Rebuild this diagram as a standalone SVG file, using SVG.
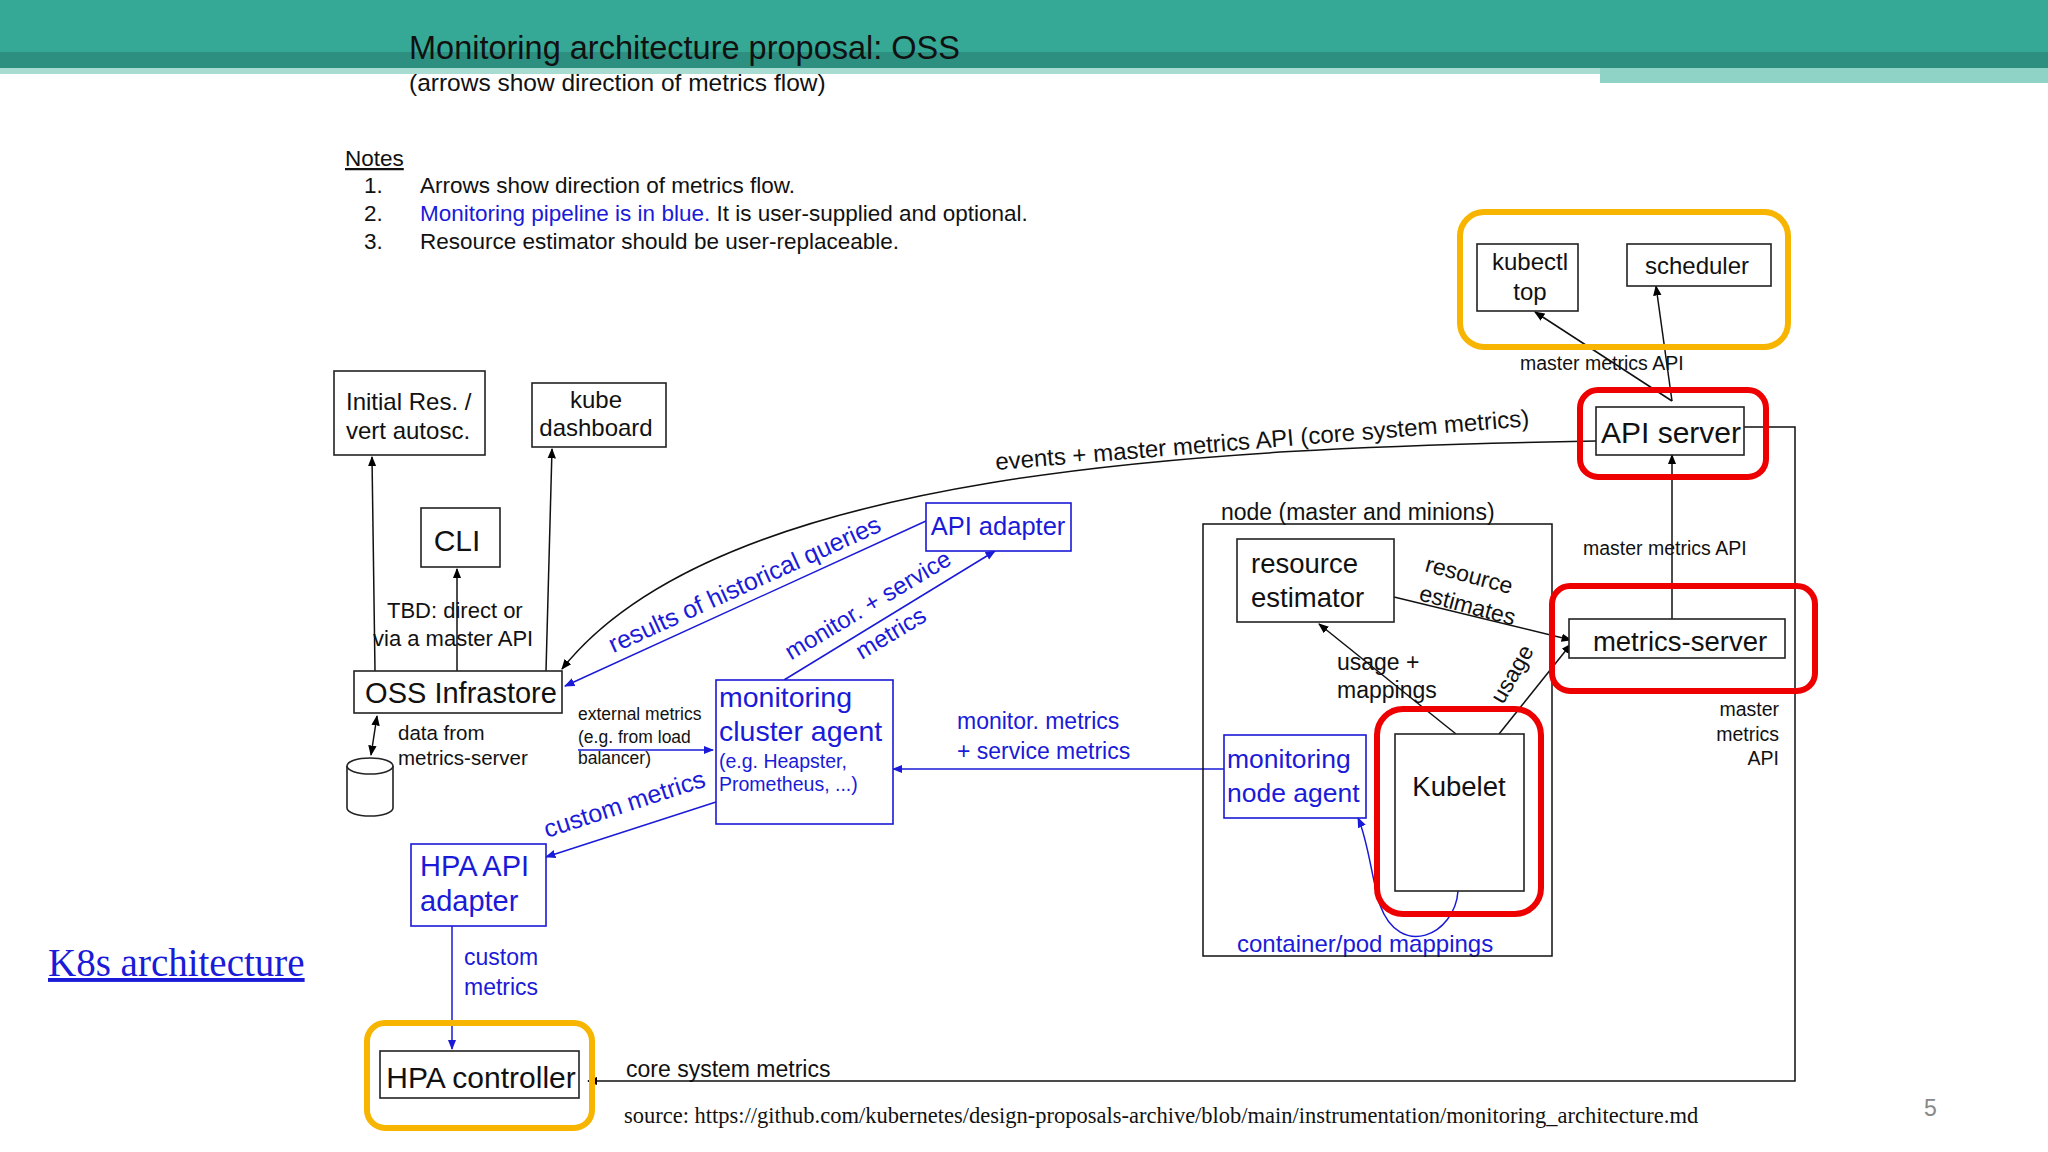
<svg xmlns="http://www.w3.org/2000/svg" width="2048" height="1152" viewBox="0 0 2048 1152">
<defs>
<marker id="ab" viewBox="0 0 10 10" refX="9" refY="5" markerWidth="7" markerHeight="7" orient="auto-start-reverse"><path d="M0,1 L10,5 L0,9 z" fill="#000"/></marker>
<marker id="au" viewBox="0 0 10 10" refX="9" refY="5" markerWidth="7" markerHeight="7" orient="auto-start-reverse"><path d="M0,1 L10,5 L0,9 z" fill="#1a1ad8"/></marker>
</defs>
<style>
text{font-family:"Liberation Sans",Arial,sans-serif;fill:#111}
.b{fill:#1a1ad8}
.bx{fill:#fff;stroke:#222;stroke-width:1.6}
.bb{fill:#fff;stroke:#1a1ad8;stroke-width:1.6}
.red{fill:none;stroke:#ee0000;stroke-width:6}
.org{fill:none;stroke:#f7b500;stroke-width:6}
.ln{fill:none;stroke:#111;stroke-width:1.5}
.lb{fill:none;stroke:#1a1ad8;stroke-width:1.5}
</style>
<rect width="2048" height="1152" fill="#fff"/>
<rect x="0" y="0" width="2048" height="52" fill="#36a996"/>
<rect x="0" y="52" width="2048" height="16" fill="#2c8f80"/>
<rect x="0" y="68" width="1600" height="6" fill="#a8dcd2"/>
<rect x="1600" y="68" width="448" height="15" fill="#8ed3c6"/>
<text x="409" y="59" font-size="32.5">Monitoring architecture proposal: OSS</text>
<text x="409" y="91" font-size="24.5">(arrows show direction of metrics flow)</text>
<text x="345" y="166" font-size="22.5" text-decoration="underline">Notes</text>
<g font-size="22.5">
<text x="364" y="193">1.</text><text x="420" y="193">Arrows show direction of metrics flow.</text>
<text x="364" y="221">2.</text><text x="420" y="221"><tspan class="b">Monitoring pipeline is in blue.</tspan> It is user-supplied and optional.</text>
<text x="364" y="249">3.</text><text x="420" y="249">Resource estimator should be user-replaceable.</text>
</g>
<g id="connectors">
<path class="ln" d="M1744,427 H1795 V1081 H588" marker-end="url(#ab)"/>
<path class="ln" d="M1672,401 L1535,312" marker-end="url(#ab)"/>
<path class="ln" d="M1672,401 L1656,286" marker-end="url(#ab)"/>
<path class="ln" d="M1596,441 C1200,448 720,470 562,669" marker-end="url(#ab)"/>
<path class="ln" d="M1394,597 L1571,640" marker-end="url(#ab)"/>
<path class="ln" d="M1672,619 L1672,455" marker-end="url(#ab)"/>
<path class="ln" d="M1456,734 L1319,624" marker-end="url(#ab)"/>
<path class="ln" d="M1499,734 L1571,644" marker-end="url(#ab)"/>
<path class="lb" d="M1458,891 C1455,935 1400,960 1380,905 C1372,880 1368,840 1358,818" marker-end="url(#au)"/>
<path class="lb" d="M1224,769 L893,769" marker-end="url(#au)"/>
<path class="lb" d="M926,521 L565,686" marker-end="url(#au)"/>
<path class="lb" d="M784,680 L995,551" marker-end="url(#au)"/>
<path class="ln" d="M375,671 L372,457" marker-end="url(#ab)"/>
<path class="ln" d="M457,671 L457,569" marker-end="url(#ab)"/>
<path class="ln" d="M546,671 L552,449" marker-end="url(#ab)"/>
<path class="ln" d="M377,716 L371,755" marker-start="url(#ab)" marker-end="url(#ab)"/>
<path class="lb" d="M578,750 L713,750" marker-end="url(#au)"/>
<path class="lb" d="M716,802 L546,857" marker-end="url(#au)"/>
<path class="lb" d="M452,926 L452,1049" marker-end="url(#au)"/>
</g>
<text x="996" y="470" font-size="24" transform="rotate(-4.7 996 470)">events + master metrics API (core system metrics)</text>
<text x="1520" y="370" font-size="19.5">master metrics API</text>
<text x="1583" y="555" font-size="19.5">master metrics API</text>
<g font-size="19.5" text-anchor="end"><text x="1779" y="716">master</text><text x="1779" y="741">metrics</text><text x="1779" y="765">API</text></g>
<text x="1424" y="571" font-size="23" transform="rotate(15 1424 571)">resource</text>
<text x="1418" y="600" font-size="23" transform="rotate(15 1418 600)">estimates</text>
<text x="1337" y="670" font-size="23">usage +</text>
<text x="1337" y="698" font-size="23">mappings</text>
<text x="1503" y="705" font-size="23" transform="rotate(-60 1503 705)">usage</text>
<text x="1237" y="952" font-size="24" class="b">container/pod mappings</text>
<text x="957" y="729" font-size="23" class="b">monitor. metrics</text>
<text x="957" y="759" font-size="23" class="b">+ service metrics</text>
<text x="748" y="592" font-size="25" class="b" text-anchor="middle" transform="rotate(-24.5 748 592)">results of historical queries</text>
<text x="872" y="612" font-size="24" class="b" text-anchor="middle" transform="rotate(-31 872 612)">monitor. + service</text>
<text x="895" y="640" font-size="24" class="b" text-anchor="middle" transform="rotate(-31 895 640)">metrics</text>
<text x="387" y="618" font-size="22">TBD: direct or</text>
<text x="373" y="646" font-size="22">via a master API</text>
<text x="398" y="740" font-size="20.5">data from</text>
<text x="398" y="765" font-size="20.5">metrics-server</text>
<g font-size="17.5" class="b"><text x="578" y="720">external metrics</text><text x="578" y="743">(e.g. from load</text><text x="578" y="764">balancer)</text></g>
<text x="627" y="812" font-size="25" class="b" text-anchor="middle" transform="rotate(-18 627 812)">custom metrics</text>
<text x="464" y="965" font-size="23" class="b">custom</text>
<text x="464" y="995" font-size="23" class="b">metrics</text>
<text x="626" y="1077" font-size="23">core system metrics</text>
<g id="clients"><rect class="org" x="1460" y="212" width="328" height="135" rx="24"/></g>
<g id="kubectl"><rect class="bx" x="1477" y="244" width="101" height="67"/><text x="1530" y="270" font-size="24" text-anchor="middle">kubectl</text><text x="1530" y="300" font-size="24" text-anchor="middle">top</text></g>
<g id="scheduler"><rect class="bx" x="1627" y="244" width="144" height="42"/><text x="1697" y="274" font-size="24" text-anchor="middle">scheduler</text></g>
<g id="apiserver"><rect class="red" x="1580" y="390" width="186" height="87" rx="18"/><rect class="bx" x="1596" y="407" width="148" height="48"/><text x="1671" y="443" font-size="30" text-anchor="middle">API server</text></g>
<g id="node"><rect class="ln" x="1203" y="524" width="349" height="432"/><text x="1221" y="520" font-size="23">node (master and minions)</text></g>
<g id="estimator"><rect class="bx" x="1237" y="539" width="157" height="83"/><text x="1251" y="573" font-size="27.5">resource</text><text x="1251" y="607" font-size="27.5">estimator</text></g>
<g id="metricsserver"><rect class="red" x="1552" y="586" width="263" height="105" rx="18"/><rect class="bx" x="1569" y="619" width="216" height="39"/><text x="1680" y="651" font-size="27.5" text-anchor="middle">metrics-server</text></g>
<g id="kubelet"><rect class="red" x="1377" y="709" width="164" height="205" rx="26"/><rect class="bx" x="1395" y="734" width="129" height="157"/><text x="1459" y="796" font-size="27.5" text-anchor="middle">Kubelet</text></g>
<g id="nodeagent"><rect class="bb" x="1224" y="735" width="142" height="83"/><text x="1227" y="768" font-size="26.5" class="b">monitoring</text><text x="1227" y="802" font-size="26.5" class="b">node agent</text></g>
<g id="clusteragent"><rect class="bb" x="716" y="680" width="177" height="144"/><text x="719" y="707" font-size="28.5" class="b">monitoring</text><text x="719" y="741" font-size="28.5" class="b">cluster agent</text><text x="719" y="768" font-size="19.5" class="b">(e.g. Heapster,</text><text x="719" y="791" font-size="19.5" class="b">Prometheus, ...)</text></g>
<g id="apiadapter"><rect class="bb" x="926" y="503" width="145" height="48"/><text x="998" y="535" font-size="25.5" class="b" text-anchor="middle">API adapter</text></g>
<g id="infrastore"><rect class="bx" x="354" y="671" width="208" height="42"/><text x="461" y="703" font-size="29" text-anchor="middle">OSS Infrastore</text></g>
<g id="initialres"><rect class="bx" x="334" y="371" width="151" height="84"/><text x="346" y="410" font-size="24">Initial Res. /</text><text x="346" y="439" font-size="24">vert autosc.</text></g>
<g id="dashboard"><rect class="bx" x="532" y="383" width="134" height="64"/><text x="596" y="408" font-size="24" text-anchor="middle">kube</text><text x="596" y="436" font-size="24" text-anchor="middle">dashboard</text></g>
<g id="cli"><rect class="bx" x="421" y="508" width="79" height="59"/><text x="457" y="551" font-size="30" text-anchor="middle">CLI</text></g>
<g id="db"><path class="bx" d="M347,766 V808 A23,8 0 0 0 393,808 V766"/><ellipse class="bx" cx="370" cy="766" rx="23" ry="8"/></g>
<g id="hpaadapter"><rect class="bb" x="411" y="844" width="135" height="82"/><text x="420" y="876" font-size="29" class="b">HPA API</text><text x="420" y="911" font-size="29" class="b">adapter</text></g>
<g id="hpacontroller"><rect class="org" x="367" y="1023" width="225" height="105" rx="18"/><rect class="bx" x="380" y="1051" width="199" height="47"/><text x="481" y="1088" font-size="30" text-anchor="middle">HPA controller</text></g>
<text x="624" y="1123" font-size="22.5" style="font-family:'Liberation Serif',serif">source: https://github.com/kubernetes/design-proposals-archive/blob/main/instrumentation/monitoring_architecture.md</text>
<text x="48" y="976" font-size="39" text-decoration="underline" style="font-family:'Liberation Serif',serif;fill:#1a1ad8">K8s architecture</text>
<text x="1924" y="1116" font-size="23" style="fill:#888">5</text>
</svg>
